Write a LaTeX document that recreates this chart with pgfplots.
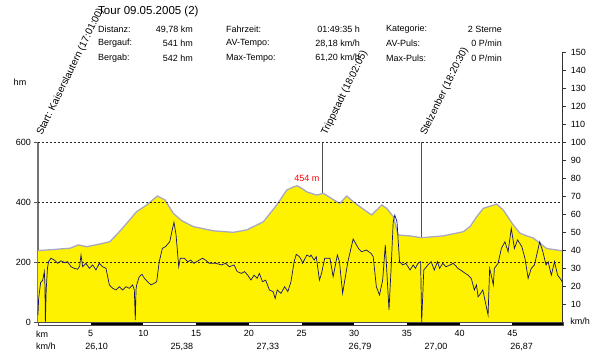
\documentclass[border=0pt]{standalone}
\usepackage{pgfplots}
\pgfplotsset{compat=1.18}
\usepackage{pgfplotstable}
\usepackage{fontspec}
\setmainfont{Liberation Sans}
\definecolor{elevline}{RGB}{168,168,192}
\definecolor{speedc}{RGB}{20,20,110}
\definecolor{markc}{RGB}{80,80,80}

\pgfplotstableread{
km hm
0 238
1.6 242
3.04 246
3.82 257
4.62 251
5.88 260
6.83 268
7.59 296
8.42 329
9.36 368
10.31 390
11.32 420
12.05 407
12.84 362
13.63 338
14.73 318
16.63 304
18.53 299
19.80 307
21.38 334
22.65 390
23.60 440
24.29 451
24.6 454
25.0 446
25.49 434
26.44 423
27.07 429
28.34 401
28.65 396
29.29 420
29.91 401
31.19 368
31.66 357
32.61 390
33.08 379
33.71 351
34.18 290
35.29 287
36.40 281
38.45 287
40.35 301
40.99 318
41.62 351
42.25 379
43.52 393
44.15 373
45.10 323
45.73 296
46.37 287
46.99 280
47.63 262
48.26 245
49.78 237
}\elevtab

\pgfplotstableread{
km v
0 4
0.06 13
0.25 22
0.44 23
0.6 28
0.66 20
0.7 0
0.78 18
0.9 30
1.0 33.5
1.23 35.4
1.55 34.4
1.87 32.6
2.18 34
2.5 33
2.8 33.5
3.13 30.7
3.45 29.8
3.76 29.3
3.95 31
4.08 37.2
4.24 30.7
4.55 32.6
4.87 29.8
5.19 31.7
5.5 28.9
5.82 32.6
6.13 30.7
6.45 29.8
6.77 20.6
7.09 18.7
7.4 17.8
7.72 19.6
8.03 17.8
8.35 19.6
8.67 18.7
8.98 20.6
9.14 17.8
9.23 1
9.3 18
9.36 20.6
9.61 25.2
9.87 26.5
10.09 24.3
10.4 22.4
10.72 20.6
11.04 21.5
11.26 22.4
11.5 33.5
11.8 40.9
12.1 41.9
12.5 44.6
12.7 50.2
12.9 55.4
13.1 48.3
13.35 30.7
13.5 35.4
13.9 35.4
14.2 33.5
14.5 34.4
14.8 32.6
15.3 34.4
15.6 35.4
15.9 34.4
16.25 32.6
16.9 32.6
17.4 31.7
17.8 32.6
18.15 30.7
18.6 31.7
18.9 28
19.3 27
19.6 28
19.9 26
20.2 23.3
20.5 26
20.8 24.3
21.0 27
21.3 22.4
21.6 23.3
21.95 17.8
22.3 16.9
22.5 13.1
22.7 17.8
23.05 15.9
23.4 19.6
23.7 16.9
24.0 22.4
24.3 33.5
24.5 37.6
24.8 36.3
25.0 34.4
25.1 32.6
25.5 37.2
25.8 36.3
25.9 37.2
26.2 34.4
26.4 36.3
26.7 23.3
26.9 27
27.2 35.4
27.7 35.4
28.0 25.2
28.4 37.2
28.6 33.5
28.9 15.9
29.4 33.5
29.9 46.1
30.4 40.9
30.7 39
31.15 40
31.6 38.1
31.8 36.3
32.1 19.6
32.4 15
32.7 23.3
32.95 42.8
33.3 6.7
33.5 29.8
33.7 55.7
33.85 59.4
34.06 55.7
34.3 33.5
34.6 31.7
34.9 32.6
35.3 28.9
35.6 31.7
35.8 29.8
36.05 32.6
36.3 33.5
36.4 0
36.6 28.9
37.0 31.7
37.3 33.5
37.6 28.9
37.9 33.5
38.1 29.8
38.4 32.6
38.7 30.7
39.1 31.7
39.4 32.6
39.85 29.8
40.3 28
40.8 26
41.1 24.3
41.4 17.8
41.6 20.6
41.75 14
42.0 15.9
42.2 17.8
42.4 12.2
42.7 3.9
42.85 29.8
43.0 26
43.2 20.6
43.3 29.8
43.65 32.6
43.96 40.9
44.3 44.6
44.6 39
44.9 52
45.2 40.9
45.5 45.6
45.9 41.9
46.2 35.4
46.5 24.3
46.8 29.8
47.1 31.7
47.6 44.6
47.9 39
48.2 31.7
48.4 33.5
48.7 26
49.0 33.5
49.3 26
49.65 23.3
49.78 21.5
}\speedtab

\begin{document}
\fontsize{9}{10}\selectfont
\begin{tikzpicture}
\useasboundingbox (0pt,0pt) rectangle (600pt,354pt);
% ---------- elevation axis ----------
\begin{axis}[
  at={(38pt,32pt)}, anchor=south west,
  scale only axis, width=524.7pt, height=270pt,
  xmin=0, xmax=49.78, ymin=0, ymax=900,
  axis line style={draw=none},
  ytick={0,200,400,600}, ytick pos=left,
  xtick={5,10,...,45}, xtick pos=bottom,
  x tick style={draw=none},
  y tick style={markc, line width=0.6pt},
  tick align=outside, major tick length=4pt,
  xticklabel style={yshift=-1pt},
  /pgf/number format/assume math mode=true,
  clip=false,
]
% marker lines (behind fill)
\draw[markc!80, line width=1.6pt] (axis cs:0,0) -- (axis cs:0,600);
\draw[markc, line width=0.8pt] (axis cs:27.0,0) -- (axis cs:27.0,600);
\draw[markc, line width=0.8pt] (axis cs:36.4,0) -- (axis cs:36.4,600);
% elevation
\addplot[fill=yellow, draw=none] table[x=km,y=hm]{\elevtab} \closedcycle;
\addplot[elevline, line width=1.3pt] table[x=km,y=hm]{\elevtab};
% grid
\draw[black!85, dash pattern=on 2pt off 2pt, line width=0.6pt] (axis cs:0,600) -- (axis cs:49.78,600);
\draw[black!85, dash pattern=on 2pt off 2pt, line width=0.6pt] (axis cs:0,400) -- (axis cs:49.78,400);
\draw[black!85, dash pattern=on 2pt off 2pt, line width=0.6pt] (axis cs:0,200) -- (axis cs:49.78,200);
% bottom bar
\fill[white] (axis cs:0,0) rectangle ([yshift=-3.5pt]axis cs:49.78,0);
\fill[black] (axis cs:5,0) rectangle ([yshift=-3.5pt]axis cs:10,0);
\fill[black] (axis cs:15,0) rectangle ([yshift=-3.5pt]axis cs:20,0);
\fill[black] (axis cs:25,0) rectangle ([yshift=-3.5pt]axis cs:30,0);
\fill[black] (axis cs:35,0) rectangle ([yshift=-3.5pt]axis cs:40,0);
\fill[black] (axis cs:45,0) rectangle ([yshift=-3.5pt]axis cs:49.78,0);
\draw[black!70, line width=0.4pt] (axis cs:0,0) rectangle ([yshift=-3.5pt]axis cs:49.78,0);
% rotated place labels
\node[rotate=64, anchor=base west, inner sep=0pt, font=\fontsize{10}{11}\selectfont] at ([xshift=4pt,yshift=6pt]axis cs:0,600) {Start: Kaiserslautern (17:01:00)};
\node[rotate=64, anchor=base west, inner sep=0pt, font=\fontsize{10}{11}\selectfont] at ([xshift=4pt,yshift=6pt]axis cs:27.0,600) {Trippstadt (18:02:05)};
\node[rotate=64, anchor=base west, inner sep=0pt, font=\fontsize{10}{11}\selectfont] at ([xshift=4pt,yshift=6pt]axis cs:36.4,600) {Stelzenber (18:20:30)};
% peak label
\node[red, inner sep=0pt] at (axis cs:25.5,480) {454 m};
% average speeds
\node[inner sep=0pt] at ([yshift=-24.7pt]axis cs:5.57,0) {26,10};
\node[inner sep=0pt] at ([yshift=-24.7pt]axis cs:13.66,0) {25,38};
\node[inner sep=0pt] at ([yshift=-24.7pt]axis cs:21.82,0) {27,33};
\node[inner sep=0pt] at ([yshift=-24.7pt]axis cs:30.55,0) {26,79};
\node[inner sep=0pt] at ([yshift=-24.7pt]axis cs:37.76,0) {27,00};
\node[inner sep=0pt] at ([yshift=-24.7pt]axis cs:45.89,0) {26,87};
\end{axis}
% ---------- speed axis ----------
\begin{axis}[
  at={(38pt,32pt)}, anchor=south west,
  scale only axis, width=524.7pt, height=270pt,
  xmin=0, xmax=49.78, ymin=0, ymax=150,
  axis line style={draw=none},
  xtick=\empty,
  ytick={10,20,...,150}, ytick pos=right, yticklabel pos=right,
  y tick style={black!80, line width=0.6pt},
  tick align=outside, major tick length=3pt,
  yticklabel style={xshift=2pt},
  /pgf/number format/assume math mode=true,
  clip=false,
]
\addplot[speedc, line width=0.7pt] table[x=km,y=v]{\speedtab};
\draw[black!80, line width=0.9pt] (axis cs:49.78,0) -- (axis cs:49.78,150);
\end{axis}
% ---------- header & labels ----------
\node[anchor=west, inner sep=0pt, font=\fontsize{11.5}{13}\selectfont] at (98pt,342.3pt) {Tour 09.05.2005 (2)};
\node[anchor=west, inner sep=0pt] at (98pt,324.5pt) {Distanz:};
\node[anchor=west, inner sep=0pt] at (98pt,310.5pt) {Bergauf:};
\node[anchor=west, inner sep=0pt] at (98pt,296pt) {Bergab:};
\node[anchor=east, inner sep=0pt] at (193pt,324.5pt) {49,78 km};
\node[anchor=east, inner sep=0pt] at (193pt,310.5pt) {541 hm};
\node[anchor=east, inner sep=0pt] at (193pt,296pt) {542 hm};
\node[anchor=west, inner sep=0pt] at (226pt,324.5pt) {Fahrzeit:};
\node[anchor=west, inner sep=0pt] at (226pt,310.5pt) {AV-Tempo:};
\node[anchor=west, inner sep=0pt] at (226pt,296pt) {Max-Tempo:};
\node[anchor=east, inner sep=0pt] at (360pt,324.5pt) {01:49:35 h};
\node[anchor=east, inner sep=0pt] at (360pt,310.5pt) {28,18 km/h};
\node[anchor=east, inner sep=0pt] at (360pt,296pt) {61,20 km/h};
\node[anchor=west, inner sep=0pt] at (386pt,324.5pt) {Kategorie:};
\node[anchor=west, inner sep=0pt] at (386pt,310.5pt) {AV-Puls:};
\node[anchor=west, inner sep=0pt] at (386pt,296pt) {Max-Puls:};
\node[anchor=east, inner sep=0pt] at (502pt,324.5pt) {2 Sterne};
\node[anchor=east, inner sep=0pt] at (502pt,310.5pt) {0 P/min};
\node[anchor=east, inner sep=0pt] at (502pt,296pt) {0 P/min};
\node[inner sep=0pt] at (20pt,271.3pt) {hm};
\node[inner sep=0pt] at (580pt,33pt) {km/h};
\node[anchor=west, inner sep=0pt] at (36pt,20pt) {km};
\node[anchor=west, inner sep=0pt] at (36pt,7.3pt) {km/h};
\end{tikzpicture}
\end{document}
